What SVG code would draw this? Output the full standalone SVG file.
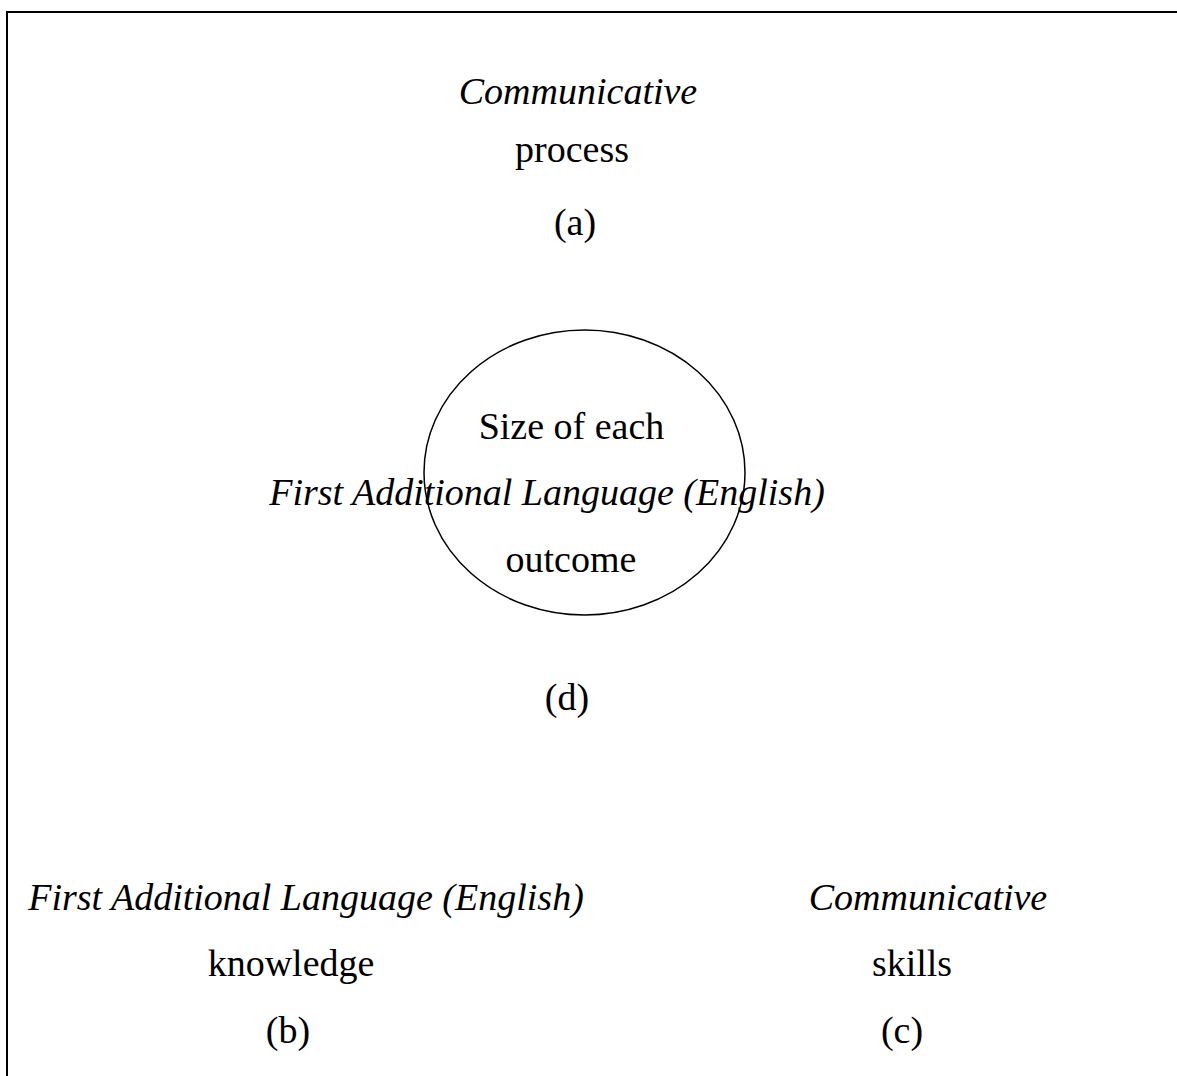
<svg xmlns="http://www.w3.org/2000/svg" width="1177" height="1076" viewBox="0 0 1177 1076">
  <style>
    .t { font-family: "Liberation Serif", "Times New Roman", serif; font-size: 38px; fill: #000; text-anchor: middle; }
    .i { font-style: italic; }
    .frame { fill: none; stroke: #000; stroke-width: 2; }
    .oval { fill: none; stroke: #000; stroke-width: 1.5; }
  </style>
  <rect width="1177" height="1076" fill="#fff"/>
  <!-- outer frame: top and left edges -->
  <path class="frame" d="M7 1076 V12 H1177"/>

  <g id="connectors"></g>

  <g id="node-a">
    <text class="t i" x="578" y="104">Communicative</text>
    <text class="t" x="572" y="162">process</text>
    <text class="t" x="575" y="235">(a)</text>
  </g>

  <g id="node-d">
    <ellipse class="oval" cx="584.5" cy="472.5" rx="160.5" ry="142.5"/>
    <text class="t" x="571.5" y="439">Size of each</text>
    <text class="t i" x="547" y="505">First Additional Language (English)</text>
    <text class="t" x="571" y="572">outcome</text>
    <text class="t" x="567" y="710">(d)</text>
  </g>

  <g id="node-b">
    <text class="t i" x="306" y="910">First Additional Language (English)</text>
    <text class="t" x="291" y="976">knowledge</text>
    <text class="t" x="288" y="1043">(b)</text>
  </g>

  <g id="node-c">
    <text class="t i" x="928" y="910">Communicative</text>
    <text class="t" x="912" y="976">skills</text>
    <text class="t" x="902" y="1043">(c)</text>
  </g>
</svg>
